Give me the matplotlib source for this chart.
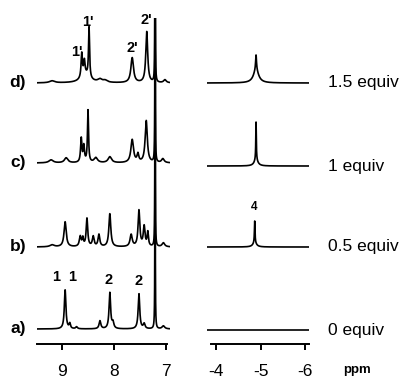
#!/usr/bin/env python3
"""
1H NMR titration stack: aromatic region (left) and hydride region (right).
"""

import numpy as np
import matplotlib
matplotlib.use("Agg")
import matplotlib.pyplot as plt

plt.rcParams['font.family'] = ['Liberation Sans', 'DejaVu Sans']

# ---- data -------------------------------------------------------------
trace_labels = ['a)', 'b)', 'c)', 'd)']
equiv_labels = ['0 equiv', '0.5 equiv', '1 equiv', '1.5 equiv']
left_offsets = [15, 97, 181, 261]
right_offsets = [14, 97, 178, 261]

# peak lists for the aromatic region: position (ppm), height, half width
arom_pos = [
    [8.94, 8.85, 8.72, 8.27, 8.08, 8.02, 7.52, 7.42, 7.21, 7.05],
    [9.19, 8.94, 8.65, 8.60, 8.52, 8.40, 8.29, 8.08, 7.67, 7.52, 7.42, 7.35, 7.21, 7.05],
    [9.21, 8.92, 8.63, 8.58, 8.50, 8.35, 8.08, 7.65, 7.54, 7.38, 7.21, 7.06],
    [9.19, 8.62, 8.57, 8.48, 8.55, 8.27, 8.17, 7.65, 7.37, 7.21, 7.02],
]
arom_height = [
    [39, 5, 2, 8, 36, 6, 35, 5, 400, 3],
    [2, 25, 10, 8, 28, 10, 12, 33, 12, 36, 20, 14, 400, 4],
    [3, 5, 24, 16, 52, 5, 6, 23, 8, 42, 400, 4],
    [2, 24, 14, 50, 8, 3, 2, 25, 51, 400, 3],
]
arom_width = [
    [0.018, 0.015, 0.02, 0.02, 0.018, 0.02, 0.018, 0.02, 0.003, 0.03],
    [0.05, 0.025, 0.02, 0.015, 0.018, 0.02, 0.02, 0.022, 0.025, 0.02, 0.02, 0.015, 0.003, 0.03],
    [0.05, 0.04, 0.015, 0.015, 0.012, 0.04, 0.04, 0.03, 0.02, 0.025, 0.003, 0.03],
    [0.06, 0.015, 0.015, 0.012, 0.10, 0.05, 0.05, 0.03, 0.022, 0.003, 0.03],
]

# hydride region: signal 4, sharp component plus broad foot
hyd_pos = [[-4.90], [-4.87, -4.87], [-4.90, -4.90], [-4.90, -4.90]]
hyd_height = [[0], [22, 4], [38, 6], [15, 13]]
hyd_width = [[0.02], [0.008, 0.05], [0.007, 0.05], [0.012, 0.07]]

arom_ticks = [9, 8, 7]
hyd_ticks = [-4, -5, -6]


def spectrum(x, pos, height, width):
    y = np.zeros_like(x)
    for p, h, w in zip(pos, height, width):
        y += h * w ** 2 / ((x - p) ** 2 + w ** 2)
    return y


W, H = 404, 379
fig = plt.figure(figsize=(W / 100, H / 100), dpi=100)
bottom, top = 35, 18
ax1 = fig.add_axes([37.04 / W, bottom / H, 133.1 / W, (H - bottom - top) / H])
ax2 = fig.add_axes([207.1 / W, bottom / H, 102.35 / W, (H - bottom - top) / H])

x1 = np.linspace(9.48, 6.92, 6000)
x2 = np.linspace(-3.8, -6.1, 3000)
for i in range(4):
    ax1.plot(x1, left_offsets[i] + spectrum(x1, arom_pos[i], arom_height[i], arom_width[i]),
             color='black', lw=1.2)
    ax2.plot(x2, right_offsets[i] + spectrum(x2, hyd_pos[i], hyd_height[i], hyd_width[i]),
             color='black', lw=1.2)
    ax1.text(9.85, left_offsets[i], trace_labels[i], ha='center', va='center',
             fontsize=12.5, fontweight='bold')
    ax2.text(-6.52, right_offsets[i], equiv_labels[i], ha='left', va='center',
             fontsize=12.5)

for ax, lim, ticks, bounds in [(ax1, (9.48, 6.92), arom_ticks, (9.48, 6.98)),
                               (ax2, (-3.8, -6.1), hyd_ticks, (-3.89, -6.09))]:
    ax.set_xlim(*lim)
    ax.set_ylim(0, 326)
    for s in ['left', 'right', 'top']:
        ax.spines[s].set_visible(False)
    ax.spines['bottom'].set_bounds(*bounds)
    ax.spines['bottom'].set_linewidth(1.4)
    ax.set_yticks([])
    ax.set_xticks(ticks)
    ax.set_xticklabels([str(t) for t in ticks])
    ax.tick_params(axis='x', direction='out', length=4, width=1.4, pad=10.5,
                   labelsize=12.5)
    ax.patch.set_visible(False)

# peak assignments
ax1.text(8.50, 322, "1'", ha='center', va='center', fontsize=10.5, fontweight='bold')
ax1.text(8.71, 292, "1'", ha='center', va='center', fontsize=10.5, fontweight='bold')
ax1.text(7.65, 296, "2'", ha='center', va='center', fontsize=10.5, fontweight='bold')
ax1.text(7.38, 324, "2'", ha='center', va='center', fontsize=10.5, fontweight='bold')
ax1.text(9.12, 67, "1", ha='center', va='center', fontsize=10.5, fontweight='bold')
ax1.text(8.81, 67, "1", ha='center', va='center', fontsize=10.5, fontweight='bold')
ax1.text(8.10, 64, "2", ha='center', va='center', fontsize=10.5, fontweight='bold')
ax1.text(7.52, 63, "2", ha='center', va='center', fontsize=10.5, fontweight='bold')
ax2.text(-4.85, 137, "4", ha='center', va='center', fontsize=8.5, fontweight='bold')
ax2.text(-6.85, -26, "ppm", ha='left', va='center', fontsize=9.5, fontweight='bold')

fig.savefig('out.png', dpi=100)
